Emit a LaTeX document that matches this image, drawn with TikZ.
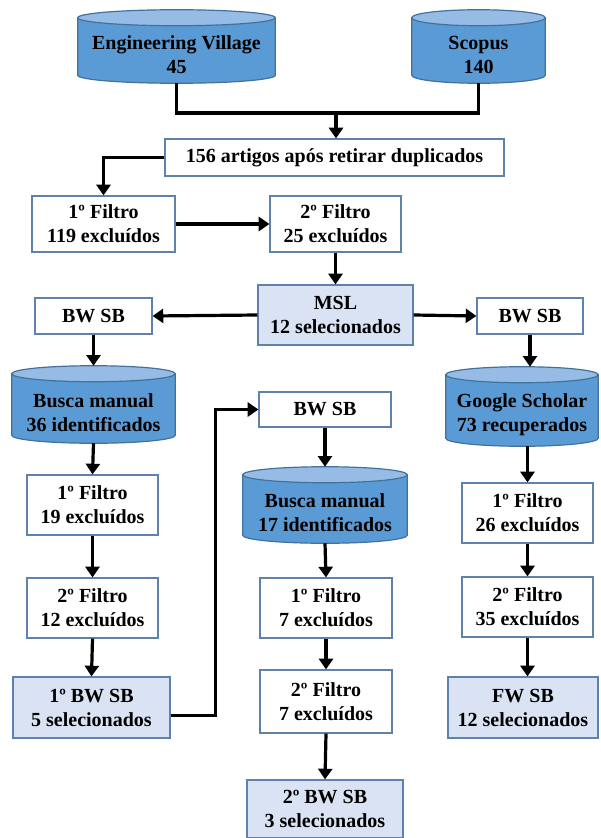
\documentclass[tikz,border=0pt]{standalone}
\usepackage{fontspec}
\setmainfont{Liberation Serif}
\usetikzlibrary{arrows.meta, calc}
\pgfdeclarelayer{background}
\pgfsetlayers{background,main}

\definecolor{boxline}{RGB}{95,130,170}
\definecolor{cylline}{RGB}{65,113,156}
\definecolor{cylfill}{RGB}{91,155,213}
\definecolor{cyltop}{RGB}{150,188,230}
\definecolor{selfill}{RGB}{218,227,243}

\tikzset{
  txt/.style={align=center, font=\bfseries\fontsize{15}{18}\selectfont},
  stage/.style={txt, draw=boxline, line width=0.9pt, fill=white, inner sep=0pt},
  chosen/.style={stage, fill=selfill},
  base/.style={txt, inner sep=0pt},
  flow/.style={line width=2.4pt, -{Triangle[width=10.5pt,length=8pt]}},
  feed/.style={line width=2.4pt},
}

% database drawn round a node (body = node box, lid above it)
\newcommand{\drawbase}[1]{%
  \draw[cylline, line width=0.9pt, fill=cylfill]
    let \p1=(#1.north west), \p2=(#1.south east), \n1={(\x2-\x1)/2} in
    (\x1,\y1+6pt) -- (\x1,\y2+6pt)
    arc[start angle=180, end angle=360, x radius=\n1, y radius=6pt]
    -- (\x2,\y1+6pt) -- cycle;
  \draw[cylline, line width=0.9pt, fill=cyltop]
    let \p1=(#1.north west), \p2=(#1.south east), \n1={(\x2-\x1)/2} in
    (\x1+\n1,\y1+6pt) ellipse[x radius=\n1, y radius=6pt];
}

\begin{document}
\begin{tikzpicture}[x=0.75pt, y=-0.75pt]
\useasboundingbox (0,0) rectangle (600,838);

%the sources
\node (ev) at (176.5,54.5) [base, minimum width=147.75pt, minimum height=42.75pt] {Engineering Village\\45};
\node (scopus) at (478.5,54.5) [base, minimum width=99.75pt, minimum height=42.75pt] {Scopus\\140};
\node (dup) at (334.5,157.5) [stage, minimum width=254.25pt, minimum height=27.75pt] {156 artigos após retirar duplicados};

%first round
\node (f1a) at (103.5,224) [stage, minimum width=107.25pt, minimum height=42pt] {1º Filtro\\119 excluídos};
\node (f2a) at (335.5,224) [stage, minimum width=98.25pt, minimum height=42pt] {2º Filtro\\25 excluídos};
\node (msl) at (335.5,315) [chosen, minimum width=116.25pt, minimum height=45pt] {MSL\\12 selecionados};
\node (bwl) at (93.5,316) [stage, minimum width=87.75pt, minimum height=27pt] {BW SB};
\node (bwr) at (530,316) [stage, minimum width=79.5pt, minimum height=27pt] {BW SB};

%left column
\node (bm1) at (93.5,412.5) [base, minimum width=122.25pt, minimum height=45.75pt] {Busca manual\\36 identificados};
\node (f1b) at (92.5,505) [stage, minimum width=98.25pt, minimum height=45pt] {1º Filtro\\19 excluídos};
\node (f2b) at (92.5,608) [stage, minimum width=98.25pt, minimum height=45pt] {2º Filtro\\12 excluídos};
\node (sb1) at (91.5,707.5) [chosen, minimum width=117.75pt, minimum height=45.75pt] {1º BW SB\\5 selecionados};

%middle column
\node (bwm) at (325,409.5) [stage, minimum width=99pt, minimum height=26.25pt] {BW SB};
\node (bm2) at (325,513) [base, minimum width=123pt, minimum height=45pt] {Busca manual\\17 identificados};
\node (f1c) at (326,608) [stage, minimum width=99pt, minimum height=45pt] {1º Filtro\\7 excluídos};
\node (f2c) at (326,701.5) [stage, minimum width=99pt, minimum height=47.25pt] {2º Filtro\\7 excluídos};
\node (sb2) at (325,809) [chosen, minimum width=117pt, minimum height=43.5pt] {2º BW SB\\3 selecionados};

%right column
\node (gs) at (522,414.5) [base, minimum width=114pt, minimum height=47.25pt] {Google Scholar\\73 recuperados};
\node (f1d) at (527.5,513) [stage, minimum width=98.25pt, minimum height=45pt] {1º Filtro\\26 excluídos};
\node (f2d) at (527.5,607) [stage, minimum width=98.25pt, minimum height=45pt] {2º Filtro\\35 excluídos};
\node (fw) at (523,707.5) [chosen, minimum width=112.5pt, minimum height=45.75pt] {FW SB\\12 selecionados};

%the databases
\begin{pgfonlayer}{background}
\foreach \db in {ev,scopus,bm1,bm2,gs} {\drawbase{\db}}
\end{pgfonlayer}
\coordinate (bm1top) at ($(bm1.north)+(0,-16)$);
\coordinate (bm2top) at ($(bm2.north)+(0,-16)$);
\coordinate (gstop) at ($(gs.north)+(0,-16)$);
\coordinate (merge) at (336,113);

%the connectors
\draw [feed] (ev.south) |- (merge);
\draw [feed] (scopus.south) |- (merge);
\draw [flow] (merge) -- (dup.north -| merge);
\draw [flow] (dup.west) -| (f1a.north);
\draw [flow] (f1a.east) -- (f2a.west);
\draw [flow] (f2a.south) -- (msl.north);
\draw [flow] (msl.west) -- (bwl.east);
\draw [flow] (msl.east) -- (bwr.west);

\draw [flow] (bwl.south) -- (bm1top);
\draw [flow] (bm1.south) -- (f1b.north);
\draw [flow] (f1b.south) -- (f2b.north);
\draw [flow] (f2b.south) -- (sb1.north);
\draw [flow] ($(sb1.east)+(0,8)$) -- ++(45,0) |- (bwm.west);

\draw [flow] (bwm.south) -- (bm2top);
\draw [flow] (bm2.south) -- (f1c.north);
\draw [flow] (f1c.south) -- (f2c.north);
\draw [flow] (f2c.south) -- (sb2.north);

\draw [flow] (bwr.south) -- (bwr.south |- gstop);
\draw [flow] (f1d.north |- gs.south) -- (f1d.north);
\draw [flow] (f1d.south) -- (f2d.north);
\draw [flow] (f2d.south) -- (fw.north -| f2d.south);
\end{tikzpicture}
\end{document}
